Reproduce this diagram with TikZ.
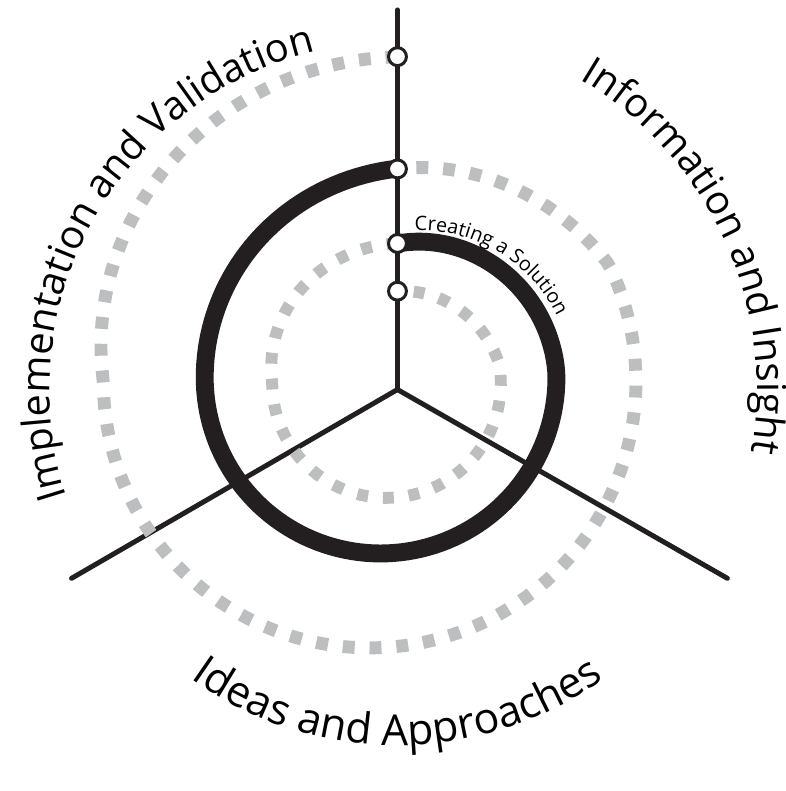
\documentclass[tikz,border=0pt]{standalone}
\usepackage{fontspec}
\setmainfont{Open Sans}
\usepackage{tikz}
\usetikzlibrary{decorations.text}
\definecolor{ink}{RGB}{35,31,32}
\definecolor{dashgrey}{RGB}{188,190,192}
\newcommand\lblfont{\fontsize{20pt}{24pt}\selectfont}
\newcommand\btmfont{\fontsize{21.5pt}{25pt}\selectfont}
\newcommand\solfont{\fontsize{10pt}{12pt}\selectfont}
\tikzset{
  spoke/.style   = {line width=2.5pt, ink, line cap=round},
  track/.style   = {line width=9pt, ink},
  ringo/.style   = {line width=6.5pt, dashgrey, dash pattern=on 6pt off 7.5pt},
  ringi/.style   = {line width=6pt, dashgrey, dash pattern=on 5.5pt off 7.5pt},
  stopdot/.style = {circle, draw=ink, fill=white, line width=1.5pt,
                    minimum size=9pt, inner sep=0pt},
  arclbl/.style  = {decorate, decoration={text along path, text align=center}},
  declare function={
    rmp(\x)   = max(\x,0.0001);
    rout(\t)  = 268 + 60*rmp((180-\t)/94.9) - 52*rmp((\t-386)/56.5);
    rthk(\t)  = 177 + 34*rmp((180-\t)/94.6)^2 - 41*rmp((\t-360)/82.8)^1.5;
    rinn(\t)  = 115 + 26.4*rmp((180-\t)/94.5) - 21.4*rmp((\t-370)/73.3);
  },
}

\begin{document}
\begin{tikzpicture}[x=0.5pt,y=0.5pt]

  \begin{scope}[yscale=-1]
    \useasboundingbox (0,0) rectangle (791,764);
    \coordinate (J) at (400,392);
    \coordinate (top) at (400,10);
    \coordinate (sw) at (72,582);
    \coordinate (se) at (732,582);
    \coordinate (solc) at (423,385);

    \draw[spoke] (J) -- (top);
    \draw[spoke] (J) -- (sw);
    \draw[spoke] (J) -- (se);

    % thick turn: from the second stop to the third
    \draw[track] plot[domain=85.4:442.8, samples=160, variable=\t]
      ({383+rthk(\t)*cos(\t)}, {380-rthk(\t)*sin(\t)});

    % dashed turns
    \draw[ringo] plot[domain=85.1:442.5, samples=200, variable=\t]
      ({372+rout(\t)*cos(\t)}, {384-rout(\t)*sin(\t)});
    \draw[ringi] plot[domain=85.5:443.3, samples=120, variable=\t]
      ({389+rinn(\t)*cos(\t)}, {386-rinn(\t)*sin(\t)});

    \node[stopdot] (s1) at (400,57) {};
    \node[stopdot] (s2) at (400,170) {};
    \node[stopdot] (s3) at (400,245) {};
    \node[stopdot] (s4) at (400,293) {};
  \end{scope}

  \path[arclbl, decoration={text={|\lblfont|Implementation and Validation}}]
    ([shift={(J)}]210:350) arc[start angle=210, end angle=91.5, radius=350];
  \path[arclbl, decoration={text={|\lblfont|Information and Insight}}]
    ([shift={(J)}]85:362) arc[start angle=85, end angle=-35.5, radius=362];
  \path[arclbl, decoration={text={|\btmfont|Ideas and Approaches}}]
    ([shift={(J)}]200:358) arc[start angle=200, end angle=340, radius=358];
  \path[arclbl, decoration={text={|\solfont|Creating a Solution}}]
    ([shift={(solc)}]100:153) arc[start angle=100, end angle=18, radius=153];

\end{tikzpicture}
\end{document}
